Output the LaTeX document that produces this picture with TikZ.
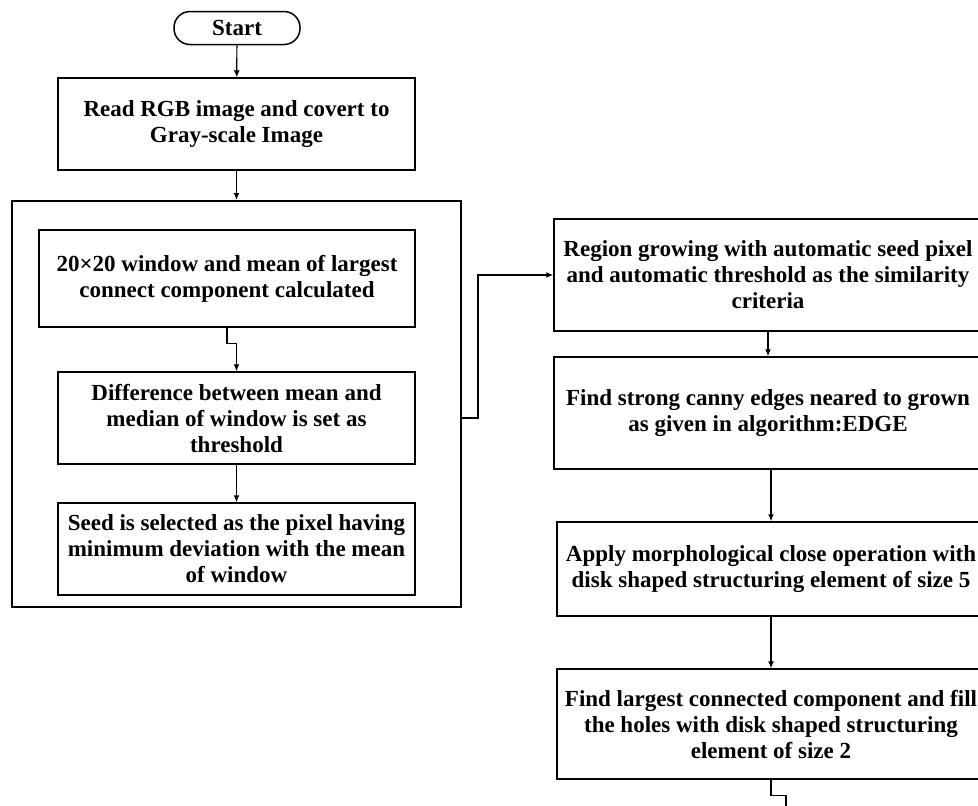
\documentclass[tikz,border=0pt]{standalone}
\usepackage{fontspec}
\setmainfont{Liberation Serif}
\usetikzlibrary{arrows.meta}

\begin{document}
\begin{tikzpicture}[x=0.5pt,y=-0.5pt,
  box/.style={draw, line width=0.75pt, align=center, inner sep=2pt,
    font=\bfseries\fontsize{11.5}{13}\selectfont},
  arrow/.style={-{Latex[length=3.5pt,width=3pt]}, line width=0.6pt}]
  \useasboundingbox (0,0) rectangle (978,805);

  % Left column: start, conversion and the seed / threshold block
  \node[box, rounded corners=8pt, minimum width=63pt, minimum height=16.5pt] (start) at (237,28) {Start};
  \node[box, minimum width=178.5pt, minimum height=46pt] (read) at (236.5,124) {Read RGB image and covert to\\Gray-scale Image};
  \node[draw, line width=1pt, minimum width=224.5pt, minimum height=203pt] (outer) at (236.5,404) {}; % enclosing block
  \node[box, minimum width=188pt, minimum height=48.5pt] (window) at (227,278.5) {20×20 window and mean of largest\\connect component calculated};
  \node[box, minimum width=178.5pt, minimum height=46pt] (thresh) at (236.5,418) {Difference between mean and\\median of window is set as\\threshold};
  \node[box, minimum width=178.5pt, minimum height=46pt] (seed) at (236.5,549) {Seed is selected as the pixel having\\minimum deviation with the mean\\of window};

  % Right column: growing and post-processing
  \node[box, minimum width=214pt, minimum height=56pt] (grow) at (768,275) {Region growing with automatic seed pixel\\and automatic threshold as the similarity\\criteria};
  \node[box, minimum width=214pt, minimum height=56pt] (canny) at (768,413) {Find strong canny edges neared to grown\\as given in algorithm:EDGE};
  \node[box, minimum width=214pt, minimum height=47pt] (close) at (771,569) {Apply morphological close operation with\\disk shaped structuring element of size 5};
  \node[box, minimum width=214pt, minimum height=55pt] (fill) at (771,724) {Find largest connected component and fill\\the holes with disk shaped structuring\\element of size 2};
  \coordinate (next) at (786,830); % continues below

  % Connectors
  \draw[arrow] (start) -- (read);
  \draw[arrow] (read) -- (outer);
  \draw[arrow] (window.south) -- ++(0,16) -| (thresh.north);
  \draw[arrow] (thresh) -- (seed);
  \draw[arrow] (outer.east |- thresh) -- ++(16,0) |- (grow.west);
  \draw[arrow] (grow) -- (canny);
  \draw[arrow] (canny.south -| close) -- (close);
  \draw[arrow] (close) -- (fill);
  \draw[arrow] (fill.south) -- ++(0,16) -| (next);
\end{tikzpicture}
\end{document}
